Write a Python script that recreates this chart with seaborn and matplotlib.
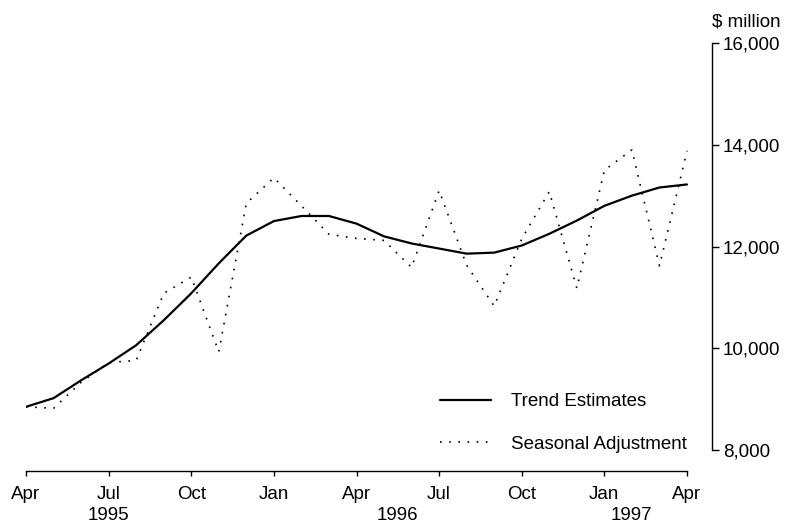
import numpy as np
import pandas as pd
import seaborn as sns
import matplotlib
matplotlib.use("Agg")
import matplotlib.pyplot as plt

# monthly values, Apr 1995 .. Apr 1997 ($ million)
trend = [8850, 9020, 9370, 9700, 10060, 10550, 11080, 11670, 12215, 12500,
         12600, 12600, 12450, 12200, 12060, 11960, 11860, 11880, 12020, 12250,
         12510, 12800, 13000, 13160, 13220]
seasonal = [8850, 8820, 9330, 9720, 9760, 11080, 11400, 9930, 12850, 13350,
            12800, 12240, 12160, 12120, 11590, 13100, 11630, 10830, 12150, 13080,
            11180, 13500, 13900, 11620, 13880]
tick_labels = ["Apr", "Jul", "Oct", "Jan", "Apr", "Jul", "Oct", "Jan", "Apr"]
years = ["1995", "1996", "1997"]
year_pos = [3, 13.5, 22]  # month index under which each year label sits
y_ticks = [8000, 10000, 12000, 14000, 16000]

sns.set_style("white")
plt.rcParams["font.family"] = ["Liberation Sans", "DejaVu Sans"]
plt.rcParams["text.color"] = "black"
fs = 13.5

df = pd.DataFrame({
    "month": np.arange(len(trend)),
    "Trend Estimates": trend,
    "Seasonal Adjustment": seasonal,
})

fig = plt.figure(figsize=(7.95, 5.25), dpi=100)
ax = fig.add_axes([26 / 795, 54 / 525, (712 - 26) / 795, (471 - 43) / 525])

sns.lineplot(data=df, x="month", y="Trend Estimates", ax=ax, color="black",
             linewidth=1.6, label="Trend Estimates")
sns.lineplot(data=df, x="month", y="Seasonal Adjustment", ax=ax, color="black",
             linewidth=1.2, linestyle=(0, (1, 4.5)), label="Seasonal Adjustment")

n = len(trend) - 1
ax.set_xlim(0, n * 686 / 661)
ax.set_ylim(8000 - 21 / 0.051, 16000)

# axes: bottom spine over the data range, value axis on the right
for side in ["left", "top"]:
    ax.spines[side].set_visible(False)
ax.spines["bottom"].set_bounds(0, n)
ax.spines["right"].set_bounds(8000, 16000)
for side in ["bottom", "right"]:
    ax.spines[side].set_color("black")
    ax.spines[side].set_linewidth(1.0)

ax.set_xticks(np.arange(0, n + 1, 3))
ax.set_xticklabels(tick_labels)
ax.yaxis.tick_right()
ax.set_yticks(y_ticks)
ax.set_yticklabels([f"{v:,}" for v in y_ticks])
ax.tick_params(axis="x", direction="out", length=3.5, width=1, pad=7,
               labelsize=fs, colors="black", bottom=True)
ax.tick_params(axis="y", direction="out", length=5, width=1, pad=3,
               labelsize=fs, colors="black", right=True, left=False)
ax.set_xlabel("")
ax.set_ylabel("")

for yr, pos in zip(years, year_pos):
    ax.text(pos, -0.105, yr, transform=ax.get_xaxis_transform(),
            ha="center", va="center", fontsize=fs, color="black")

fig.text(712 / 795, 1 - 22 / 525, r"\$ million", ha="left", va="center",
         fontsize=fs, color="black")

leg = ax.legend(loc="lower left", bbox_to_anchor=(414 / 686, 18 / 428),
                frameon=False, fontsize=fs, handlelength=2.7, handletextpad=1.1,
                labelspacing=1.36, borderaxespad=0, borderpad=0)
for t in leg.get_texts():
    t.set_color("black")

fig.savefig("out.png", dpi=100)
